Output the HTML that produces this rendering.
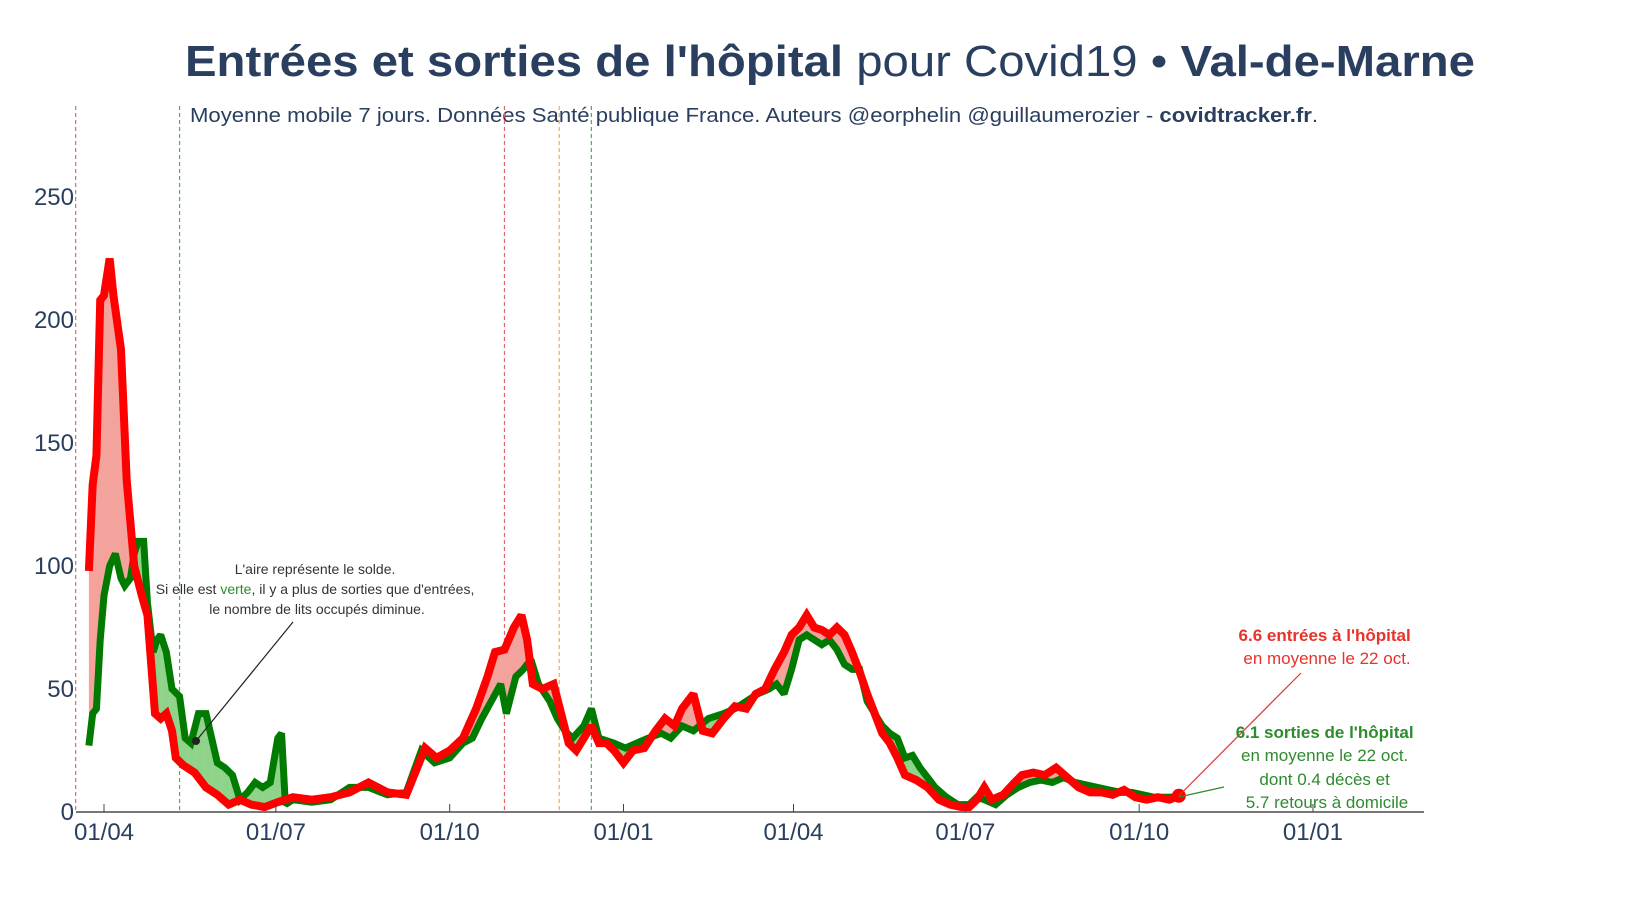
<!DOCTYPE html>
<html><head><meta charset="utf-8">
<style>
html,body{margin:0;padding:0;background:#fff;}
svg{display:block;font-family:"Liberation Sans",sans-serif;}
</style></head>
<body>
<svg id="chart" width="1650" height="900" viewBox="0 0 1650 900" xmlns="http://www.w3.org/2000/svg">
  <text x="830" y="76" text-anchor="middle" font-size="44" fill="#2a3f5f" textLength="1290" lengthAdjust="spacingAndGlyphs"><tspan font-weight="bold">Entrées et sorties de l'hôpital</tspan> pour Covid19 • <tspan font-weight="bold">Val-de-Marne</tspan></text>
  <text x="190" y="122" font-size="20" fill="#2a3f5f" textLength="1128" lengthAdjust="spacingAndGlyphs">Moyenne mobile 7 jours. Données Santé publique France. Auteurs @eorphelin @guillaumerozier - <tspan font-weight="bold">covidtracker.fr</tspan>.</text>
  <g id="grid"></g>
  <g id="fills"></g>
  <g id="lines"></g>
  <g id="axes"></g>
  <g id="annots">
    <text font-size="14" fill="#333" text-anchor="middle">
      <tspan x="317" y="574">L'aire représente le solde.</tspan>
      <tspan x="317" y="594">Si elle est <tspan fill="#2e8b2e">verte</tspan>, il y a plus de sorties que d'entrées,</tspan>
      <tspan x="317" y="614">le nombre de lits occupés diminue.</tspan>
    </text>
    <line x1="293" y1="622" x2="196" y2="741" stroke="#222" stroke-width="1.2"/>
    <circle cx="196" cy="741" r="4" fill="#222"/>
    <text font-size="17" fill="#e8322b" text-anchor="middle">
      <tspan x="1327" y="641" font-weight="bold">6.6 entrées à l'hôpital</tspan>
      <tspan x="1327" y="664">en moyenne le 22 oct.</tspan>
    </text>
    <text font-size="17" fill="#2e8b2e" text-anchor="middle">
      <tspan x="1327" y="738" font-weight="bold">6.1 sorties de l'hôpital</tspan>
      <tspan x="1327" y="761">en moyenne le 22 oct.</tspan>
      <tspan x="1327" y="785">dont 0.4 décès et</tspan>
      <tspan x="1327" y="808">5.7 retours à domicile</tspan>
    </text>
  </g>
</svg>
<script>
// days offset from 2020-04-01
const redDays = [-8,-6,-4,-2,0,3,5,9,12,16,20,23,27,30,33,36,38,42,48,54,60,66,72,78,85,92,100,110,120,130,140,150,160,170,176,183,190,197,203,207,212,217,221,224,227,232,238,242,246,250,254,258,262,266,270,275,280,286,292,297,302,306,312,317,322,328,334,340,345,350,355,360,364,368,372,376,380,384,388,392,396,400,404,408,412,416,420,424,430,436,442,448,454,458,462,466,470,476,482,486,492,498,504,510,516,522,528,534,540,546,552,558,564,569];
const redVals = [98,133,145,208,210,225,210,188,135,100,88,80,40,38,40,33,22,19,16,10,7,3,5,3,2,4,6,5,6,8,12,8,7,26,22,25,30,42,55,65,66,75,80,70,52,50,52,40,28,25,30,35,28,28,25,20,25,26,33,38,35,42,48,33,32,38,43,42,48,50,58,65,72,75,80,75,74,72,75,72,65,57,48,40,32,28,22,15,13,10,5,3,2,2,5,10,5,7,12,15,16,15,18,14,10,8,8,7,9,6,5,6,5,6.6];
const greenDays = [-8,-6,-4,-2,0,3,6,9,11,14,16,18,21,23,26,28,30,33,36,40,43,46,50,54,57,60,64,68,72,76,80,84,88,92,94,96,100,110,120,130,140,150,160,168,175,183,190,195,200,205,210,213,218,222,226,230,236,240,244,248,254,258,262,270,276,282,288,295,300,306,312,320,328,334,340,346,352,356,360,364,368,372,376,380,384,388,392,396,400,404,408,412,416,420,424,428,432,436,440,446,452,458,462,466,472,478,484,490,496,502,508,514,520,526,532,538,544,550,556,562,569];
const greenVals = [27,40,42,70,88,100,105,95,92,95,105,110,110,85,65,70,72,65,50,47,30,28,40,40,30,20,18,15,5,8,12,10,12,30,32,3,5,4,5,10,10,7,8,25,20,22,28,30,38,45,52,40,55,58,62,52,45,38,33,30,35,42,30,28,26,28,30,32,30,35,33,38,40,42,45,48,50,52,48,58,70,72,70,68,70,66,60,58,58,45,40,35,32,30,22,23,18,14,10,6,3,3,6,5,3,7,10,12,13,12,14,12,11,10,9,8,8,7,6,6,6.1];
const yTicks = [0,50,100,150,200,250];
const xTickDays = [0,91,183,275,365,456,548,640];
const xTickLabels = ["01/04","01/07","01/10","01/01","01/04","01/07","01/10","01/01"];
const eventDays = [-15,40,212,241,258];
const eventColors = ["#e06666","#4caf50","#e06666","#f5b041","#4caf50"];

const NS="http://www.w3.org/2000/svg";
const X0=104, PXD=1.889, Y0=812, PXV=2.46;
const xs=d=>X0+d*PXD, ys=v=>Y0-v*PXV;
function mk(tag,attrs,parent){const e=document.createElementNS(NS,tag);for(const k in attrs)e.setAttribute(k,attrs[k]);parent.appendChild(e);return e;}
function interp(days,vals,d){
  if(d<=days[0])return vals[0];
  for(let i=1;i<days.length;i++){if(d<=days[i]){const t=(d-days[i-1])/(days[i]-days[i-1]);return vals[i-1]+t*(vals[i]-vals[i-1]);}}
  return vals[vals.length-1];
}
const grid=document.getElementById('grid'),fills=document.getElementById('fills'),lines=document.getElementById('lines'),axes=document.getElementById('axes');

eventDays.forEach((d,i)=>{
  const l=mk('line',{x1:xs(d),x2:xs(d),y1:106,y2:812,stroke:eventColors[i],'stroke-width':1.2,'stroke-dasharray':'4,3'},grid);
  
  
});

const start=Math.max(redDays[0],greenDays[0]), end=Math.min(redDays[redDays.length-1],greenDays[greenDays.length-1]);
for(let d=start;d<end;d+=0.5){
  const r1=interp(redDays,redVals,d),r2=interp(redDays,redVals,d+0.5);
  const g1=interp(greenDays,greenVals,d),g2=interp(greenDays,greenVals,d+0.5);
  const col=(r1+r2)>=(g1+g2)?'#f4a29c':'#8fd38a';
  const p=mk('polygon',{points:`${xs(d)},${ys(r1)} ${xs(d+0.5)+0.3},${ys(r2)} ${xs(d+0.5)+0.3},${ys(g2)} ${xs(d)},${ys(g1)}`,fill:col},fills);
  
  
}

const gp=mk('polyline',{points:greenDays.map((d,i)=>xs(d)+','+ys(greenVals[i])).join(' '),fill:'none',stroke:'#007a00','stroke-width':7,'stroke-linejoin':'miter','stroke-miterlimit':2},lines);


const rp=mk('polyline',{points:redDays.map((d,i)=>xs(d)+','+ys(redVals[i])).join(' '),fill:'none',stroke:'#ff0000','stroke-width':8,'stroke-linejoin':'miter','stroke-miterlimit':2},lines);


const ld=redDays.length-1;
const dot=mk('circle',{cx:xs(redDays[ld]),cy:ys(redVals[ld]),r:7,fill:'#ff0000'},lines);


const al1=mk('line',{x1:1301,y1:673,x2:xs(redDays[ld]),y2:ys(redVals[ld]),stroke:'#e8322b','stroke-width':1.2},lines);


const al2=mk('line',{x1:1224,y1:787,x2:xs(greenDays[greenDays.length-1]),y2:ys(greenVals[greenVals.length-1]),stroke:'#2e8b2e','stroke-width':1.2},lines);



const ax=mk('line',{x1:76,x2:1424,y1:812,y2:812,stroke:'#777','stroke-width':2},axes);


xTickDays.forEach((d,i)=>{
  const t=mk('line',{x1:xs(d),x2:xs(d),y1:804,y2:812,stroke:'#444','stroke-width':1},axes);
  
  
  const tx=mk('text',{x:xs(d),y:840,'text-anchor':'middle','font-size':24,fill:'#2a3f5f'},axes);
  tx.textContent=xTickLabels[i];
  
  
});
yTicks.forEach(v=>{
  const tx=mk('text',{x:74,y:ys(v)+8,'text-anchor':'end','font-size':24,fill:'#2a3f5f'},axes);
  tx.textContent=v;
  
  
});
</script>
</body></html>
